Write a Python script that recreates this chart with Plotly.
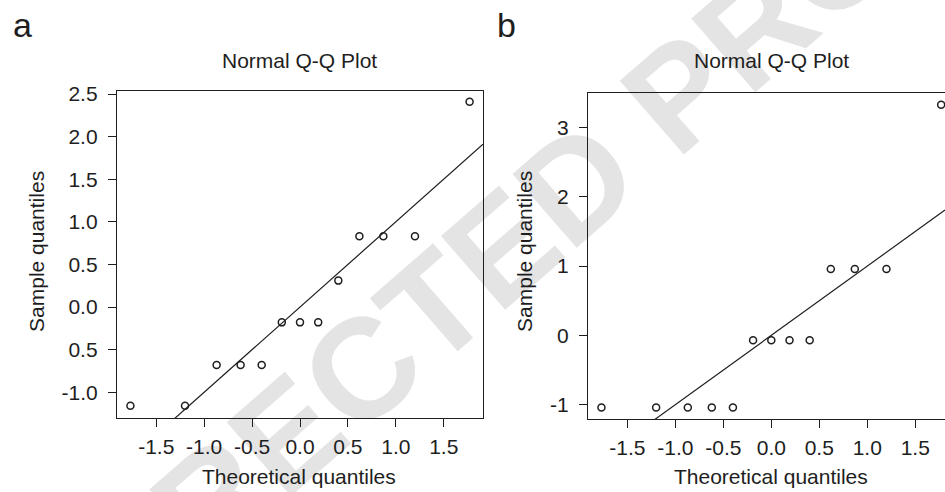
import plotly.graph_objects as go

# Theoretical normal quantiles shared by both samples (n = 13)
theoretical_q = [-1.77, -1.20, -0.87, -0.62, -0.40, -0.19, 0.00, 0.19, 0.40, 0.62, 0.87, 1.20, 1.77]

# Ordered sample quantiles
sample_q_a = [-1.16, -1.16, -0.68, -0.68, -0.68, -0.18, -0.18, -0.18, 0.31, 0.83, 0.83, 0.83, 2.41]
sample_q_b = [-1.04, -1.04, -1.04, -1.04, -1.04, -0.07, -0.07, -0.07, -0.07, 0.96, 0.96, 0.96, 3.33]

# Reference lines (intercept, slope)
ref_line_a = (0.0, 1.0)
ref_line_b = (0.0, 1.0)

# Axis ranges
x_range_a = [-1.91, 1.91]
y_range_a = [-1.305, 2.54]
x_range_b = [-1.91, 1.81]
y_range_b = [-1.21, 3.505]

# Tick values and labels
x_tickvals = [-1.5, -1.0, -0.5, 0.0, 0.5, 1.0, 1.5]
x_ticktext = ["-1.5", "-1.0", "-0.5", "0.0", "0.5", "1.0", "1.5"]
y_tickvals_a = [-1.0, -0.5, 0.0, 0.5, 1.0, 1.5, 2.0, 2.5]
y_ticktext_a = ["-1.0", "0.5", "0.0", "0.5", "1.0", "1.5", "2.0", "2.5"]
y_tickvals_b = [-1, 0, 1, 2, 3]
y_ticktext_b = ["-1", "0", "1", "2", "3"]

W, H = 945, 492
FONT = "Liberation Sans, Arial, Helvetica, sans-serif"
INK = "#1e1e1e"


def px(x):
    return x / W


def py(y):
    return 1 - y / H


def line_points(rng, coef):
    b0, b1 = coef
    return rng, [b0 + b1 * v for v in rng]


fig = go.Figure()

for xa, ya, ys, coef, xr in (
    ("x", "y", sample_q_a, ref_line_a, x_range_a),
    ("x2", "y2", sample_q_b, ref_line_b, x_range_b),
):
    lx, ly = line_points(xr, coef)
    fig.add_trace(go.Scatter(
        x=lx, y=ly, xaxis=xa, yaxis=ya, mode="lines",
        line=dict(color=INK, width=1.2), hoverinfo="skip", showlegend=False,
    ))
    fig.add_trace(go.Scatter(
        x=theoretical_q, y=ys, xaxis=xa, yaxis=ya, mode="markers",
        marker=dict(symbol="circle-open", size=7, color=INK, line=dict(width=1.5, color=INK)),
        showlegend=False, cliponaxis=False,
    ))

axis_common = dict(
    showline=True, linecolor=INK, linewidth=1.3,
    ticks="outside", ticklen=8, tickwidth=1.2, tickcolor=INK,
    showgrid=False, zeroline=False,
    tickfont=dict(family=FONT, size=21, color=INK),
    tickmode="array",
)

fig.update_layout(
    width=W, height=H,
    margin=dict(l=0, r=0, t=0, b=0),
    paper_bgcolor="white",
    plot_bgcolor="rgba(0,0,0,0)",
    font=dict(family=FONT, color=INK),
    xaxis=dict(domain=[px(117), px(483)], range=x_range_a, anchor="y", mirror=True,
               tickvals=x_tickvals, ticktext=x_ticktext, ticklabelstandoff=1, **axis_common),
    yaxis=dict(domain=[py(417), py(84)], range=y_range_a, anchor="x", mirror=True,
               tickvals=y_tickvals_a, ticktext=y_ticktext_a, ticklabelstandoff=6, **axis_common),
    xaxis2=dict(domain=[px(588), 1.0], range=x_range_b, anchor="y2", mirror=True,
                tickvals=x_tickvals, ticktext=x_ticktext, ticklabelstandoff=1, **axis_common),
    yaxis2=dict(domain=[py(418), py(86)], range=y_range_b, anchor="x2", mirror=False,
                tickvals=y_tickvals_b, ticktext=y_ticktext_b, ticklabelstandoff=6, **axis_common),
)

# Proof watermark, drawn beneath the plots
fig.add_shape(
    type="line", xref="paper", yref="paper", layer="below",
    x0=px(272), y0=py(412), x1=px(672), y1=py(92),
    line=dict(color="rgba(0,0,0,0)", width=0),
    label=dict(text="<b>CORRECTED PROOF</b>", textangle=-41, textposition="middle",
               xanchor="center", yanchor="middle",
               font=dict(family=FONT, size=142, color="#e4e4e4")),
)

annotations = [
    # panel letters
    dict(text="a", x=px(11), y=py(39), xanchor="left", yanchor="bottom", font=dict(size=34)),
    dict(text="b", x=px(495), y=py(39), xanchor="left", yanchor="bottom", font=dict(size=34)),
    # titles
    dict(text="Normal Q-Q Plot", x=px(299), y=py(53), xanchor="center", yanchor="middle", font=dict(size=21)),
    dict(text="Normal Q-Q Plot", x=px(771), y=py(53), xanchor="center", yanchor="middle", font=dict(size=21)),
    # axis titles
    dict(text="Theoretical quantiles", x=px(299), y=py(476), xanchor="center", yanchor="middle", font=dict(size=21)),
    dict(text="Theoretical quantiles", x=px(771), y=py(476), xanchor="center", yanchor="middle", font=dict(size=21)),
    dict(text="Sample quantiles", x=px(37), y=py(248), xanchor="center", yanchor="middle",
         textangle=-90, font=dict(size=21)),
    dict(text="Sample quantiles", x=px(525), y=py(248), xanchor="center", yanchor="middle",
         textangle=-90, font=dict(size=21)),
]
for a in annotations:
    a.update(xref="paper", yref="paper", showarrow=False)
    a["font"] = dict(family=FONT, color=INK, **a["font"])
fig.update_layout(annotations=annotations)

fig.write_html("out.html")
